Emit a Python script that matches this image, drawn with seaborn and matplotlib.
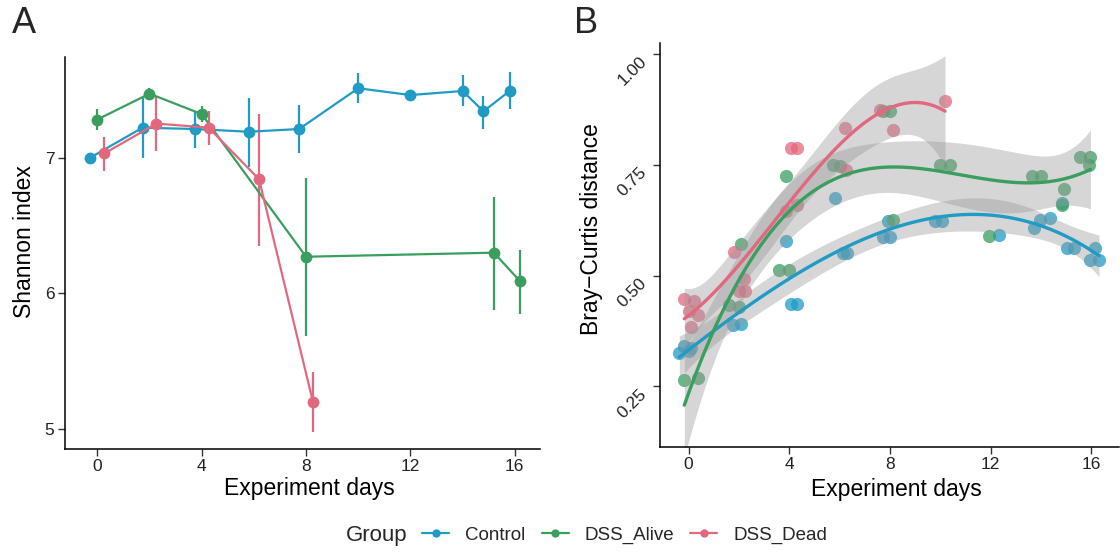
import numpy as np
import pandas as pd
import matplotlib
matplotlib.use("Agg")
import matplotlib.pyplot as plt
import seaborn as sns
from matplotlib.lines import Line2D

# ---------------- data ----------------
groups = ["Control", "DSS_Alive", "DSS_Dead"]
palette = {"Control": "#1F9BC6", "DSS_Alive": "#3A9E5E", "DSS_Dead": "#E2687E"}

# Panel A: Shannon index (mean with error range)
ctrl_days = [0, 2, 4, 6, 8, 10, 12, 14, 15, 16]
ctrl_mean = [7.00, 7.22, 7.21, 7.19, 7.21, 7.51, 7.46, 7.49, 7.34, 7.49]
ctrl_lo = [6.99, 7.00, 7.07, 6.93, 7.03, 7.40, 7.43, 7.38, 7.21, 7.36]
ctrl_hi = [7.01, 7.44, 7.34, 7.44, 7.39, 7.62, 7.49, 7.61, 7.45, 7.63]

alive_days = [0, 2, 4, 8, 15, 16]
alive_mean = [7.28, 7.47, 7.32, 6.27, 6.30, 6.09]
alive_lo = [7.20, 7.42, 7.26, 5.69, 5.88, 5.85]
alive_hi = [7.36, 7.51, 7.38, 6.85, 6.71, 6.32]

dead_days = [0, 2, 4, 6, 8]
dead_mean = [7.03, 7.25, 7.22, 6.84, 5.20]
dead_lo = [6.90, 7.05, 7.09, 6.35, 4.98]
dead_hi = [7.15, 7.45, 7.34, 7.32, 5.42]

# Panel B: Bray-Curtis distance (jittered day, distance)
b_ctrl_day = [-0.37, -0.17, 0.09, 0.03, 1.75, 2.09, 3.88, 4.05, 4.30, 5.81, 6.15, 6.30,
              7.73, 8.00, 7.93, 9.79, 10.06, 12.32, 13.71, 13.98, 14.38, 14.84,
              15.04, 15.31, 16.17, 15.97, 16.31]
b_ctrl_val = [0.325, 0.340, 0.336, 0.329, 0.388, 0.391, 0.577, 0.436, 0.436, 0.675, 0.551, 0.551,
              0.588, 0.588, 0.622, 0.622, 0.622, 0.592, 0.607, 0.626, 0.630, 0.663,
              0.562, 0.562, 0.562, 0.536, 0.536]

b_alive_day = [-0.17, 0.36, 1.62, 2.02, 2.07, 3.61, 3.99, 3.88, 5.74, 6.00, 7.73, 8.00,
               8.13, 9.99, 10.39, 11.92, 13.65, 14.00, 14.91, 14.84, 15.57, 15.97, 15.90]
b_alive_val = [0.265, 0.269, 0.433, 0.430, 0.572, 0.513, 0.512, 0.725, 0.749, 0.746, 0.870, 0.870,
               0.626, 0.749, 0.749, 0.590, 0.725, 0.725, 0.695, 0.658, 0.767, 0.767, 0.750]

b_dead_day = [-0.17, 0.23, 0.03, 0.36, 0.09, 1.82, 2.22, 2.26, 2.00, 4.05, 4.30, 3.88,
              4.32, 6.20, 6.24, 7.60, 8.13, 10.19]
b_dead_val = [0.447, 0.442, 0.419, 0.412, 0.384, 0.552, 0.492, 0.464, 0.466, 0.787, 0.787, 0.645,
              0.658, 0.832, 0.738, 0.874, 0.829, 0.894]


# ---------------- smoother: cubic least-squares fit with 95% confidence band ----------------
def poly_band(x, y, order=3, n_grid=80, level_z=1.959964):
    x = np.asarray(x, float)
    y = np.asarray(y, float)
    n = len(x)
    X = np.vander(x, order + 1)
    beta, *_ = np.linalg.lstsq(X, y, rcond=None)
    res = y - X @ beta
    df = n - (order + 1)
    sigma2 = res @ res / df
    cov = sigma2 * np.linalg.inv(X.T @ X)
    xg = np.linspace(x.min(), x.max(), n_grid)
    Xg = np.vander(xg, order + 1)
    fit = Xg @ beta
    se = np.sqrt(np.einsum("ij,jk,ik->i", Xg, cov, Xg))
    z = level_z
    t = (z + (z ** 3 + z) / (4 * df) + (5 * z ** 5 + 16 * z ** 3 + 3 * z) / (96 * df ** 2)
         + (3 * z ** 7 + 19 * z ** 5 + 17 * z ** 3 - 15 * z) / (384 * df ** 3))
    return xg, fit, fit - t * se, fit + t * se


# ---------------- style ----------------
sns.set_style("ticks")
plt.rcParams["font.family"] = ["Liberation Sans", "DejaVu Sans"]
plt.rcParams["axes.linewidth"] = 1.1
text_col = "#222222"
lab_size = 16.5
tick_size = 12.5

fig = plt.figure(figsize=(11.2, 5.54), dpi=100)
axA = fig.add_axes([0.058, 0.1895, 0.424, 0.7076])
axB = fig.add_axes([0.589, 0.193, 0.410, 0.729])

# ---------------- panel A ----------------
rows = []
for g, d, m, lo, hi in [("Control", ctrl_days, ctrl_mean, ctrl_lo, ctrl_hi),
                        ("DSS_Alive", alive_days, alive_mean, alive_lo, alive_hi),
                        ("DSS_Dead", dead_days, dead_mean, dead_lo, dead_hi)]:
    for di, mi, l, h in zip(d, m, lo, hi):
        rows.append(dict(Group=g, day=di, mean=mi, lo=l, hi=h))
dfA = pd.DataFrame(rows)
# position dodge (width 0.8) among groups present at each day
dodge_w = 0.8
xs = []
for _, r in dfA.iterrows():
    present = [g for g in groups if ((dfA.day == r.day) & (dfA.Group == g)).any()]
    n = len(present)
    i = present.index(r.Group)
    xs.append(r.day + (i - (n - 1) / 2) * dodge_w / n)
dfA["x"] = xs

sns.lineplot(data=dfA, x="x", y="mean", hue="Group", hue_order=groups, palette=palette,
             marker="o", markersize=8.5, markeredgewidth=0, linewidth=1.6,
             estimator=None, sort=True, legend=False, ax=axA)
for g in groups:
    sub = dfA[dfA.Group == g]
    axA.vlines(sub.x, sub.lo, sub.hi, color=palette[g], linewidth=1.6, zorder=1)

axA.set_xlim(-1.24, 16.96)
axA.set_ylim(4.855, 7.74)
axA.set_xticks([0, 4, 8, 12, 16])
axA.set_yticks([5, 6, 7])
axA.set_xlabel("Experiment days", fontsize=lab_size, color="black")
axA.set_ylabel("Shannon index", fontsize=lab_size, color="black")
axA.xaxis.set_label_coords(0.515, -0.072)
axA.yaxis.set_label_coords(-0.062, 0.53)

# ---------------- panel B ----------------
seriesB = [("Control", b_ctrl_day, b_ctrl_val),
           ("DSS_Alive", b_alive_day, b_alive_val),
           ("DSS_Dead", b_dead_day, b_dead_val)]
for g, d, v in seriesB:
    sns.scatterplot(x=d, y=v, color=palette[g], s=90, alpha=0.75, linewidth=0,
                    ax=axB, zorder=1, legend=False)
fits = {g: poly_band(d, v) for g, d, v in seriesB}
for g in groups:
    xg, fit, lo, hi = fits[g]
    axB.fill_between(xg, lo, hi, color=(0.6, 0.6, 0.6), alpha=0.4, linewidth=0, zorder=2)
for g in groups:
    xg, fit, lo, hi = fits[g]
    sns.lineplot(x=xg, y=fit, color=palette[g], linewidth=2.4, ax=axB, zorder=3,
                 estimator=None, sort=False)

axB.set_xlim(-1.15, 17.1)
axB.set_ylim(0.113, 1.024)
axB.set_xticks([0, 4, 8, 12, 16])
axB.set_yticks([0.25, 0.50, 0.75, 1.00])
axB.set_yticklabels(["0.25", "0.50", "0.75", "1.00"])
axB.set_xlabel("Experiment days", fontsize=lab_size, color="black")
axB.set_ylabel("Bray\u2212Curtis distance", fontsize=lab_size, color="black")
axB.xaxis.set_label_coords(0.515, -0.077)
axB.yaxis.set_label_coords(-0.124, 0.54)

for ax in (axA, axB):
    sns.despine(ax=ax)
    ax.tick_params(axis="both", labelsize=tick_size, colors="#333333", length=5, width=1,
                   labelcolor=text_col, pad=2.5)
    ax.spines["left"].set_color("black")
    ax.spines["bottom"].set_color("black")

for lab in axB.get_yticklabels():
    lab.set_rotation(45)
    lab.set_ha("right")
    lab.set_va("top")

# panel tags
fig.text(0.011, 0.957, "A", fontsize=26, va="center", ha="left")
fig.text(0.5125, 0.957, "B", fontsize=26, va="center", ha="left")

# legend
handles = [Line2D([0], [0], color=palette[g], marker="o", markersize=6, linewidth=1.6,
                  markeredgewidth=0) for g in groups]
fig.text(0.309, 0.034, "Group", fontsize=16, va="center", ha="left")
fig.legend(handles, groups, loc="center left", bbox_to_anchor=(0.377, 0.034), ncol=3,
           frameon=False, fontsize=13.5, handlelength=1.45, handletextpad=0.85,
           columnspacing=0.85, borderaxespad=0, borderpad=0)

fig.savefig("out.png", dpi=100)
